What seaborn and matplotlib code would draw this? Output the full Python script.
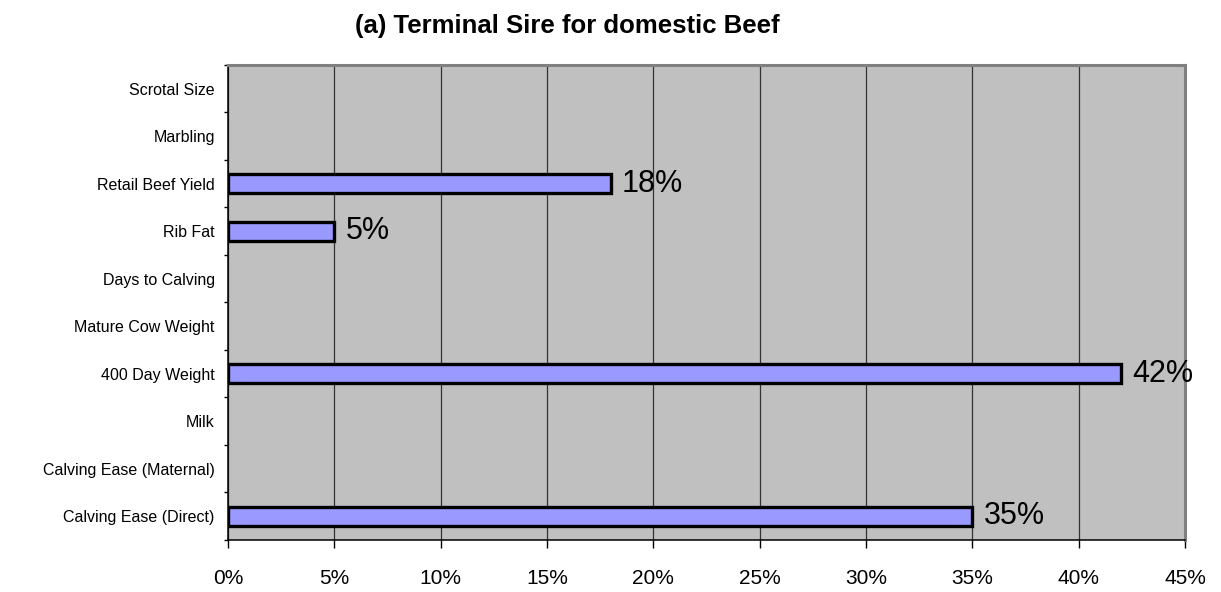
import pandas as pd
import matplotlib
matplotlib.use('Agg')
import matplotlib.pyplot as plt
import seaborn as sns
import numpy as np

# Datos
rasgos = ['Scrotal Size', 'Marbling', 'Retail Beef Yield', 'Rib Fat',
          'Days to Calving', 'Mature Cow Weight', '400 Day Weight', 'Milk',
          'Calving Ease (Maternal)', 'Calving Ease (Direct)']
pesos = [0, 0, 18, 5, 0, 0, 42, 0, 0, 35]
ticks_x = [0, 5, 10, 15, 20, 25, 30, 35, 40, 45]
titulo = '(a) Terminal Sire for domestic Beef'

df = pd.DataFrame({'rasgo': rasgos, 'peso': pesos})

sns.set_style("white", {'axes.facecolor': '#C0C0C0'})
plt.rcParams['font.family'] = ['Liberation Sans', 'DejaVu Sans']
plt.rcParams['text.color'] = 'black'
plt.rcParams['xtick.color'] = 'black'
plt.rcParams['ytick.color'] = 'black'

fig, ax = plt.subplots(figsize=(12.21, 5.92), dpi=100)
fig.subplots_adjust(left=228 / 1221, right=1185 / 1221, top=1 - 65 / 592, bottom=1 - 540 / 592)

sns.barplot(data=df, x='peso', y='rasgo', order=rasgos, orient='h', color='#9999FF',
            saturation=1, width=0.4, edgecolor='black', linewidth=2.4, ax=ax, zorder=3)

# ocultar barras en cero
for p in ax.patches:
    if p.get_width() == 0:
        p.set_visible(False)

# etiquetas de valor
for i, v in enumerate(pesos):
    if v > 0:
        ax.annotate(f'{v}%', xy=(v, i), xytext=(8, 0), textcoords='offset points',
                    ha='left', va='center', fontsize=22, color='black')

ax.set_xlim(0, 45)
ax.set_ylim(len(rasgos) - 0.5, -0.5)
ax.set_xticks(ticks_x)
ax.set_xticklabels([f'{t}%' for t in ticks_x], fontsize=15)
ax.set_yticks(np.arange(len(rasgos)))
ax.set_yticklabels(rasgos, fontsize=11.5)
ax.set_yticks(np.arange(len(rasgos) + 1) - 0.5, minor=True)
ax.tick_params(axis='y', which='major', length=0, pad=9.5, labelcolor='black')
ax.tick_params(axis='y', which='minor', length=3, width=1, color='black', direction='out', left=True)
ax.tick_params(axis='x', which='major', length=6, width=1, color='black', direction='out',
               bottom=True, pad=15, labelcolor='black')
ax.set_xlabel('')
ax.set_ylabel('')

ax.grid(axis='x', color='#333333', linewidth=0.9, zorder=1)
ax.set_axisbelow(True)

for s in ['top', 'right']:
    ax.spines[s].set_color('#808080')
    ax.spines[s].set_linewidth(2.2)
for s in ['left', 'bottom']:
    ax.spines[s].set_color('black')
    ax.spines[s].set_linewidth(1.1)

fig.text(567 / 1221, 1 - 26 / 592, titulo, ha='center', va='center', fontsize=18.5,
         fontweight='bold', color='black')

plt.savefig('out.png', dpi=100)
